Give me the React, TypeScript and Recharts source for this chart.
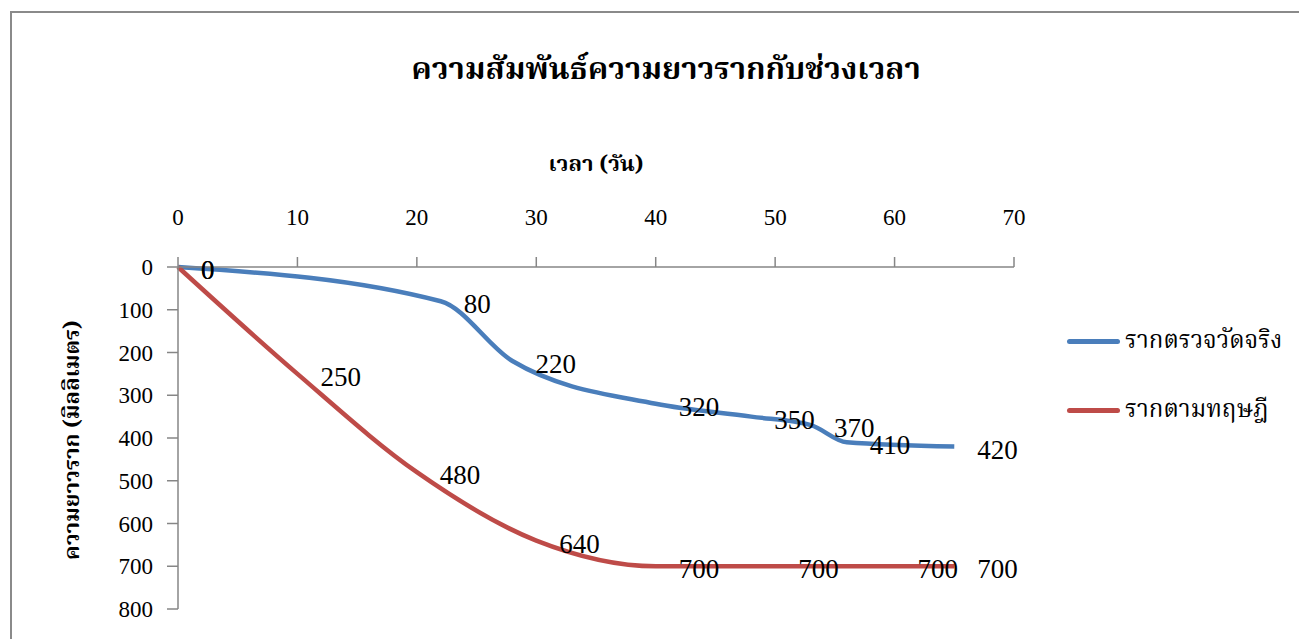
import React from 'react';
import { LineChart, Line, XAxis, YAxis, Legend, LabelList } from 'recharts';

// days / root length (mm) for each series
const measuredDays = [0, 22, 28, 40, 48, 53, 56, 65];
const measuredLength = [0, 80, 220, 320, 350, 370, 410, 420];
const theoryDays = [0, 10, 20, 30, 40, 50, 60, 65];
const theoryLength = [0, 250, 480, 640, 700, 700, 700, 700];

const dayTicks = [0, 10, 20, 30, 40, 50, 60, 70];
const lengthTicks = [0, 100, 200, 300, 400, 500, 600, 700, 800];

const measuredName = 'รากตรวจวัดจริง';
const theoryName = 'รากตามทฤษฎี';

const BLUE = '#4A7EBB';
const RED = '#BE4B48';
const AXIS = '#868686';
const SERIF = '"Liberation Serif", "Times New Roman", serif';
const THAI = '"Noto Serif Thai", "Noto Sans Thai", "Angsana New", "Liberation Serif", serif';

const measuredData = measuredDays.map((d, i) => ({ day: d, length: measuredLength[i] }));
const theoryData = theoryDays.map((d, i) => ({ day: d, length: theoryLength[i] }));

const PointLabel = (props: any) => {
  const { x, y, value } = props;
  return (
    <text x={x + 23} y={y + 12} fontSize={27} fontFamily={SERIF} fill="#000" textAnchor="start">
      {value}
    </text>
  );
};

const LegendBox = () => (
  <div style={{ fontFamily: THAI, fontSize: 24, color: '#000' }}>
    {[
      { name: measuredName, color: BLUE },
      { name: theoryName, color: RED },
    ].map((s, i) => (
      <div key={s.name} style={{ display: 'flex', alignItems: 'center', height: 40, marginBottom: i === 0 ? 29 : 0 }}>
        <div style={{ width: 53, height: 5, borderRadius: 3, background: s.color, marginRight: 5 }} />
        <span>{s.name}</span>
      </div>
    ))}
  </div>
);

export default function App() {
  return (
    <div style={{ position: 'absolute', left: 0, top: 0, width: 1299, height: 639, overflow: 'hidden', background: '#fff' }}>
      <div
        style={{
          position: 'absolute',
          left: 10,
          top: 11,
          width: 1400,
          height: 800,
          borderLeft: '2px solid #8a8a8a',
          borderTop: '2px solid #8a8a8a',
        }}
      />
      <div
        style={{
          position: 'absolute',
          left: 12,
          width: 1308,
          top: 46,
          textAlign: 'center',
          fontFamily: THAI,
          fontWeight: 'bold',
          fontSize: 31,
        }}
      >
        ความสัมพันธ์ความยาวรากกับช่วงเวลา
      </div>
      <div
        style={{
          position: 'absolute',
          left: 178,
          width: 836,
          top: 148,
          textAlign: 'center',
          fontFamily: THAI,
          fontWeight: 'bold',
          fontSize: 22,
        }}
      >
        เวลา (วัน)
      </div>
      <div
        style={{
          position: 'absolute',
          left: 73,
          top: 440,
          transform: 'translate(-50%, -50%) rotate(-90deg)',
          whiteSpace: 'nowrap',
          fontFamily: THAI,
          fontWeight: 'bold',
          fontSize: 22,
        }}
      >
        ความยาวราก (มิลลิเมตร)
      </div>
      <LineChart
        width={1299}
        height={639}
        margin={{ top: 207, right: 285, bottom: 30, left: 98 }}
        style={{ position: 'absolute', left: 0, top: 0 }}
      >
        <XAxis
          type="number"
          dataKey="day"
          orientation="top"
          domain={[0, 70]}
          ticks={dayTicks}
          interval={0}
          height={60}
          allowDuplicatedCategory={false}
          stroke={AXIS}
          tickSize={10}
          tickMargin={32}
          tick={{ fontSize: 23, fill: '#000', fontFamily: SERIF }}
          axisLine={{ stroke: AXIS, strokeWidth: 1.5 }}
          tickLine={{ stroke: AXIS, strokeWidth: 1.5 }}
        />
        <YAxis
          type="number"
          dataKey="length"
          reversed
          domain={[0, 800]}
          ticks={lengthTicks}
          interval={0}
          width={80}
          stroke={AXIS}
          tickSize={11}
          tickMargin={14}
          tick={{ fontSize: 23, fill: '#000', fontFamily: SERIF }}
          axisLine={{ stroke: AXIS, strokeWidth: 1.5 }}
          tickLine={{ stroke: AXIS, strokeWidth: 1.5 }}
        />
        <Legend
          layout="vertical"
          align="center"
          verticalAlign="middle"
          content={<LegendBox />}
          wrapperStyle={{ left: 1067, top: 321, width: 230 }}
        />
        <Line
          data={measuredData}
          dataKey="length"
          name={measuredName}
          type="monotone"
          stroke={BLUE}
          strokeWidth={4.5}
          dot={false}
          activeDot={false}
          isAnimationActive={false}
        >
          <LabelList dataKey="length" content={<PointLabel />} />
        </Line>
        <Line
          data={theoryData}
          dataKey="length"
          name={theoryName}
          type="monotone"
          stroke={RED}
          strokeWidth={4.5}
          dot={false}
          activeDot={false}
          isAnimationActive={false}
        >
          <LabelList dataKey="length" content={<PointLabel />} />
        </Line>
      </LineChart>
    </div>
  );
}
